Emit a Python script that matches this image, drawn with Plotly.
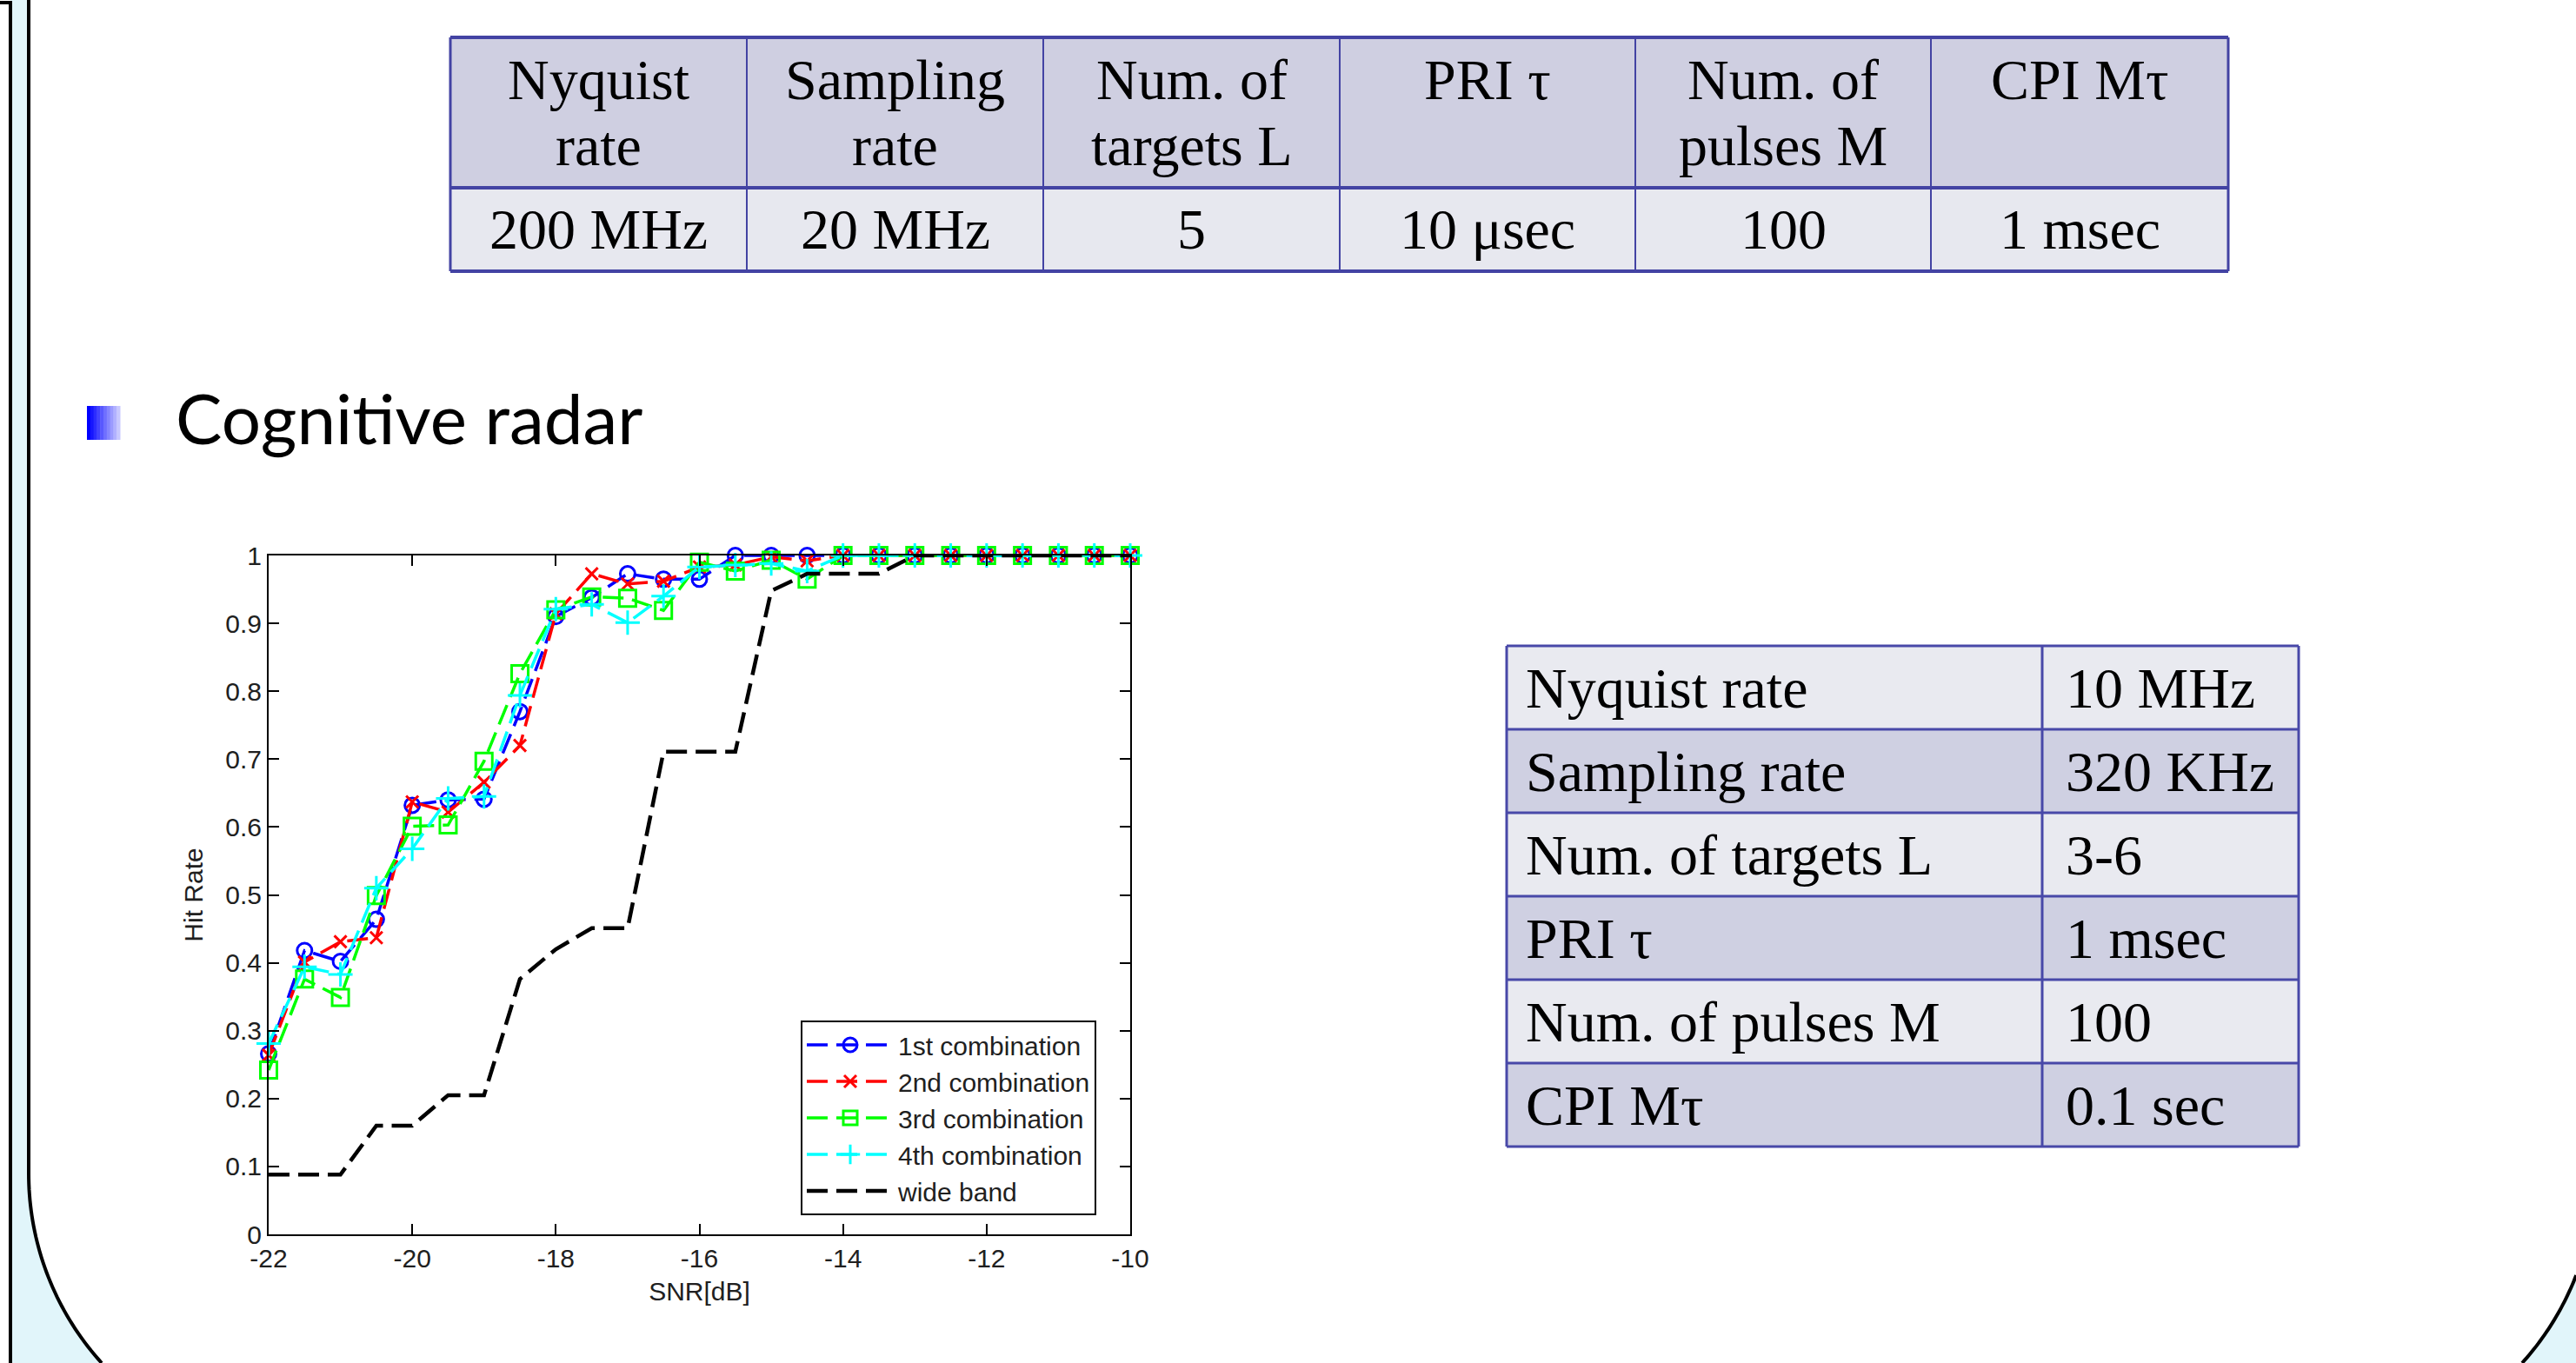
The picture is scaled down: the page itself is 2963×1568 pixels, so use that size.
import plotly.graph_objects as go
import numpy as np

W, H = 2963, 1568

# ---------------- data ----------------
snr_db = [-22, -21.5, -21, -20.5, -20, -19.5, -19, -18.5, -18, -17.5, -17, -16.5, -16,
          -15.5, -15, -14.5, -14, -13.5, -13, -12.5, -12, -11.5, -11, -10.5, -10]

hit_1st = [0.266, 0.418, 0.402, 0.464, 0.632, 0.640, 0.641, 0.770, 0.910, 0.938, 0.973, 0.965, 0.965,
           1.0, 1.0, 1.0, 1.0, 1.0, 1.0, 1.0, 1.0, 1.0, 1.0, 1.0, 1.0]
hit_2nd = [0.264, 0.401, 0.431, 0.437, 0.637, 0.622, 0.666, 0.720, 0.914, 0.973, 0.958, 0.962, 0.983,
           0.986, 0.998, 0.992, 1.0, 1.0, 1.0, 1.0, 1.0, 1.0, 1.0, 1.0, 1.0]
hit_3rd = [0.242, 0.376, 0.349, 0.499, 0.601, 0.603, 0.697, 0.826, 0.920, 0.939, 0.937, 0.919, 0.990,
           0.977, 0.993, 0.965, 1.0, 1.0, 1.0, 1.0, 1.0, 1.0, 1.0, 1.0, 1.0]
hit_4th = [0.281, 0.394, 0.383, 0.510, 0.568, 0.642, 0.645, 0.794, 0.921, 0.928, 0.901, 0.940, 0.983,
           0.986, 0.988, 0.977, 1.0, 1.0, 1.0, 1.0, 1.0, 1.0, 1.0, 1.0, 1.0]
hit_wide = [0.088, 0.088, 0.088, 0.160, 0.160, 0.205, 0.205, 0.376, 0.420, 0.451, 0.451, 0.711, 0.711,
            0.711, 0.948, 0.973, 0.973, 0.973, 1.0, 1.0, 1.0, 1.0, 1.0, 1.0, 1.0]

series_names = ["1st combination", "2nd combination", "3rd combination", "4th combination", "wide band"]

x_ticks = [-22, -20, -18, -16, -14, -12, -10]
y_ticks = [0, 0.1, 0.2, 0.3, 0.4, 0.5, 0.6, 0.7, 0.8, 0.9, 1]

top_head_line1 = ["Nyquist", "Sampling", "Num. of", "PRI τ", "Num. of", "CPI Mτ"]
top_head_line2 = ["rate", "rate", "targets L", "", "pulses M", ""]
top_values = ["200 MHz", "20 MHz", "5", "10 μsec", "100", "1 msec"]

side_labels = ["Nyquist rate", "Sampling rate", "Num. of targets L", "PRI τ", "Num. of pulses M", "CPI Mτ"]
side_values = ["10 MHz", "320 KHz", "3-6", "1 msec", "100", "0.1 sec"]

bullet_text = "Cognitive radar"

# ---------------- helpers ----------------
def px(x):
    return x / W

def py(y):
    return 1 - y / H

def path_from(pts, close=True):
    s = "M" + " L".join(f"{px(x):.5f},{py(y):.5f}" for x, y in pts)
    return s + (" Z" if close else "")

shapes = []
annotations = []

LIGHT_BLUE = "#E1F5FA"

# ---------------- slide frame ----------------
R = 325
t_left = np.linspace(0, np.arcsin(218 / R), 40)
left_arc = [(33 + R - R * np.cos(t), 1350 + R * np.sin(t)) for t in t_left]
fill_left = [(12, 0), (12, H)] + left_arc[::-1] + [(33, 1350), (33, 0)]
shapes.append(dict(type="path", xref="paper", yref="paper", path=path_from(fill_left),
                   fillcolor=LIGHT_BLUE, line=dict(width=0)))
t_right = np.linspace(np.arcsin(117 / R), np.arcsin(218 / R), 30)
right_arc = [(2660 + R * np.cos(t), 1350 + R * np.sin(t)) for t in t_right]
fill_right = right_arc + [(W + 5, H + 5), (W + 5, 1467)]
shapes.append(dict(type="path", xref="paper", yref="paper", path=path_from(fill_right),
                   fillcolor=LIGHT_BLUE, line=dict(width=0)))
shapes.append(dict(type="path", xref="paper", yref="paper",
                   path=path_from([(0, 3), (12, 3), (12, H + 5)], close=False),
                   line=dict(color="black", width=4)))
shapes.append(dict(type="path", xref="paper", yref="paper",
                   path=path_from([(33, -5), (33, 1350)] + left_arc, close=False),
                   line=dict(color="black", width=4)))
shapes.append(dict(type="path", xref="paper", yref="paper",
                   path=path_from(right_arc, close=False),
                   line=dict(color="black", width=4)))

# ---------------- top table ----------------
SERIF = "Liberation Serif"
TFS = 66
col_x = [518, 859, 1200, 1541, 1881, 2221, 2563]
t_top, t_mid, t_bot = 43, 216, 312
T_BORDER = "#4343A3"
for i in range(len(top_values)):
    shapes.append(dict(type="rect", xref="paper", yref="paper", x0=px(col_x[i]), x1=px(col_x[i + 1]),
                       y0=py(t_top), y1=py(t_mid), fillcolor="#CFCFE1", line=dict(width=0)))
    shapes.append(dict(type="rect", xref="paper", yref="paper", x0=px(col_x[i]), x1=px(col_x[i + 1]),
                       y0=py(t_mid), y1=py(t_bot), fillcolor="#E7E8EF", line=dict(width=0)))
    cx = px((col_x[i] + col_x[i + 1]) / 2)
    annotations.append(dict(x=cx, y=py(91), xref="paper", yref="paper", text=top_head_line1[i],
                            showarrow=False, xanchor="center", yanchor="middle",
                            font=dict(family=SERIF, size=TFS, color="black")))
    if top_head_line2[i]:
        annotations.append(dict(x=cx, y=py(168), xref="paper", yref="paper", text=top_head_line2[i],
                                showarrow=False, xanchor="center", yanchor="middle",
                                font=dict(family=SERIF, size=TFS, color="black")))
    annotations.append(dict(x=cx, y=py(263), xref="paper", yref="paper", text=top_values[i],
                            showarrow=False, xanchor="center", yanchor="middle",
                            font=dict(family=SERIF, size=TFS, color="black")))
for j, xx in enumerate(col_x):
    shapes.append(dict(type="line", xref="paper", yref="paper", x0=px(xx), x1=px(xx),
                       y0=py(t_top), y1=py(t_bot),
                       line=dict(color=T_BORDER, width=3 if j in (0, len(col_x) - 1) else 2)))
for yy in (t_top, t_mid, t_bot):
    shapes.append(dict(type="line", xref="paper", yref="paper", x0=px(col_x[0]), x1=px(col_x[-1]),
                       y0=py(yy), y1=py(yy), line=dict(color=T_BORDER, width=4)))

# ---------------- bullet ----------------
n_strips = 10
for k in range(n_strips):
    f = k / (n_strips - 1)
    r = int(f * 200)
    g = int(f * 200)
    col = f"rgb({r},{g},255)"
    x0 = 100 + k * 38 / n_strips
    shapes.append(dict(type="rect", xref="paper", yref="paper", x0=px(x0), x1=px(x0 + 38 / n_strips + 0.5),
                       y0=py(467), y1=py(506), fillcolor=col, line=dict(width=0)))
annotations.append(dict(x=px(200), y=py(480), xref="paper", yref="paper", text=bullet_text,
                        showarrow=False, xanchor="left", yanchor="middle",
                        font=dict(family="Lato", size=80, color="black")))

# ---------------- side table ----------------
s_x = [1733, 2349, 2644]
s_rows = [743, 839, 935, 1031, 1127, 1223, 1319]
S_BORDER = "#4848A8"
for i in range(len(side_labels)):
    fill = "#E9EAF0" if i % 2 == 0 else "#CFD0E2"
    shapes.append(dict(type="rect", xref="paper", yref="paper", x0=px(s_x[0]), x1=px(s_x[2]),
                       y0=py(s_rows[i]), y1=py(s_rows[i + 1]), fillcolor=fill, line=dict(width=0)))
    cy = py((s_rows[i] + s_rows[i + 1]) / 2)
    annotations.append(dict(x=px(1753), y=cy, xref="paper", yref="paper", text=side_labels[i],
                            showarrow=False, xanchor="left", yanchor="middle",
                            font=dict(family=SERIF, size=TFS, color="black")))
    annotations.append(dict(x=px(2374), y=cy, xref="paper", yref="paper", text=side_values[i],
                            showarrow=False, xanchor="left", yanchor="middle",
                            font=dict(family=SERIF, size=TFS, color="black")))
for yy in s_rows:
    shapes.append(dict(type="line", xref="paper", yref="paper", x0=px(s_x[0]), x1=px(s_x[2]),
                       y0=py(yy), y1=py(yy), line=dict(color=S_BORDER, width=3)))
for xx in s_x:
    shapes.append(dict(type="line", xref="paper", yref="paper", x0=px(xx), x1=px(xx),
                       y0=py(s_rows[0]), y1=py(s_rows[-1]), line=dict(color=S_BORDER, width=3)))

# ---------------- chart ----------------
fig = go.Figure()
DASH = "24px,10px"
styles = [
    dict(color="#0000FF", symbol="circle-open", size=17),
    dict(color="#FF0000", symbol="x-thin-open", size=14),
    dict(color="#00FF00", symbol="square-open", size=19),
    dict(color="#00FFFF", symbol="cross-thin-open", size=20),
]
for name, ys, st in zip(series_names[:4], [hit_1st, hit_2nd, hit_3rd, hit_4th], styles):
    fig.add_trace(go.Scatter(
        x=snr_db, y=ys, name=name, mode="lines+markers", cliponaxis=False,
        line=dict(color=st["color"], width=3.5, dash=DASH),
        marker=dict(symbol=st["symbol"], size=st["size"], color=st["color"],
                    line=dict(color=st["color"], width=3)),
    ))
fig.add_trace(go.Scatter(
    x=snr_db, y=hit_wide, name=series_names[4], mode="lines",
    line=dict(color="black", width=4.5, dash=DASH),
))

TICKFONT = dict(family="Liberation Sans", size=30, color="#202020")
axis_common = dict(showgrid=False, zeroline=False, showline=True, linecolor="black", linewidth=2,
                   mirror="ticks", ticks="inside", ticklen=12, tickwidth=2, tickcolor="black",
                   tickfont=TICKFONT)

fig.update_layout(
    width=W, height=H,
    margin=dict(l=0, r=0, t=0, b=0, autoexpand=False),
    paper_bgcolor="white", plot_bgcolor="white",
    shapes=shapes, annotations=annotations,
    xaxis=dict(domain=[px(309), px(1300)], range=[-22, -10], tickvals=x_ticks,
               ticktext=[f"{v:g}" for v in x_ticks],
               title=dict(text="SNR[dB]", font=TICKFONT, standoff=12), **axis_common),
    yaxis=dict(domain=[py(1420), py(639)], range=[0, 1], tickvals=y_ticks,
               ticktext=[f"{v:g}" for v in y_ticks],
               title=dict(text="Hit Rate", font=TICKFONT, standoff=17), **axis_common),
    legend=dict(x=px(921), y=py(1174), xanchor="left", yanchor="top",
                bgcolor="white", bordercolor="black", borderwidth=2,
                font=dict(family="Liberation Sans", size=30, color="#202020"),
                itemwidth=100, tracegroupgap=0),
    showlegend=True,
)

fig.write_html("out.html", config={"displayModeBar": False},
               post_script="document.body.style.margin='0';document.body.style.overflow='hidden';")
